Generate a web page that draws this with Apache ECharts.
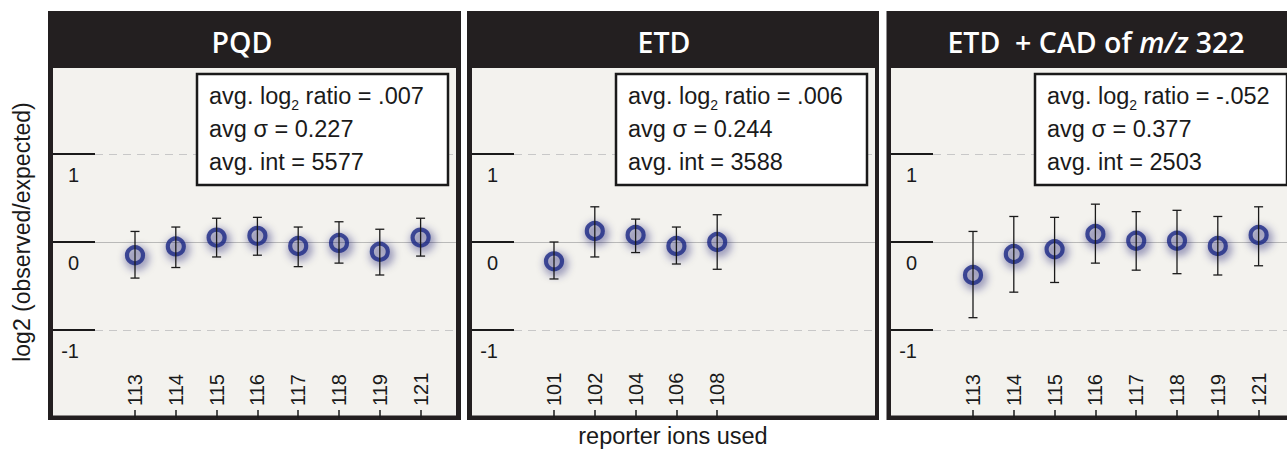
<!DOCTYPE html>
<html>
<head>
<meta charset="utf-8">
<script src="https://cdn.jsdelivr.net/npm/echarts@6/dist/echarts.min.js"></script>
<style>
html,body{margin:0;padding:0;background:#ffffff;}
#chart{width:1287px;height:451px;}
</style>
</head>
<body>
<div id="chart"></div>
<script>
// ---------- data ----------
const panelTitles = ['PQD', 'ETD', 'ETD  + CAD of {i|m/z} 322'];

const pqdIons  = ['113', '114', '115', '116', '117', '118', '119', '121'];
const pqdMean  = [-0.15, -0.05, 0.05, 0.07, -0.045, -0.01, -0.11, 0.05];
const pqdLow   = [-0.41, -0.29, -0.17, -0.15, -0.28, -0.24, -0.375, -0.16];
const pqdHigh  = [0.12, 0.17, 0.27, 0.28, 0.17, 0.23, 0.145, 0.27];

const etdIons  = ['101', '102', '104', '106', '108'];
const etdMean  = [-0.22, 0.125, 0.08, -0.045, 0.0];
const etdLow   = [-0.42, -0.17, -0.12, -0.25, -0.31];
const etdHigh  = [0.0, 0.40, 0.26, 0.17, 0.31];

const cadIons  = ['113', '114', '115', '116', '117', '118', '119', '121'];
const cadMean  = [-0.375, -0.136, -0.083, 0.09, 0.015, 0.015, -0.045, 0.08];
const cadLow   = [-0.86, -0.57, -0.46, -0.24, -0.32, -0.36, -0.375, -0.27];
const cadHigh  = [0.12, 0.29, 0.28, 0.43, 0.345, 0.36, 0.29, 0.40];

const statRatio = ['.007', '.006', '-.052'];
const statSigma = ['0.227', '0.244', '0.377'];
const statInt   = ['5577', '3588', '2503'];

const yTicks = [-1, 0, 1];
const yAxisTitle = 'log2 (observed/expected)';
const xAxisTitle = 'reporter ions used';

// ---------- layout (not data) ----------
const FONT = '"Liberation Sans", Arial, Helvetica, sans-serif';
const HFONT = '"Open Sans", "Noto Sans", sans-serif';
const BAND = 40.8;
const panels = [
  { outerX: 48,    outerW: 413, innerL: 53,  innerW: 403, titleX: 242,  boxW: 251, ions: pqdIons, mean: pqdMean, low: pqdLow, high: pqdHigh },
  { outerX: 467,   outerW: 412, innerL: 472, innerW: 403, titleX: 664,  boxW: 251, ions: etdIons, mean: etdMean, low: etdLow, high: etdHigh },
  { outerX: 886.5, outerW: 420, innerL: 891, innerW: 400, titleX: 1096, boxW: 252, ions: cadIons, mean: cadMean, low: cadLow, high: cadHigh }
];
const GTOP = 66, GH = 352;

const grid = [], xAxis = [], yAxis = [], series = [], graphics = [];

panels.forEach((p, k) => {
  const a = 2 * k, b = 2 * k + 1;
  grid.push({ left: p.innerL, top: GTOP, width: p.innerW, height: GH });
  grid.push({ left: p.innerL + 82 - BAND / 2, top: GTOP, width: p.ions.length * BAND, height: GH });

  xAxis.push({ type: 'value', gridIndex: a, min: 0, max: 1, show: false });
  xAxis.push({
    type: 'category', gridIndex: b, data: p.ions, z: 5,
    axisLine: { show: false, onZero: false },
    axisTick: { show: true, inside: true, alignWithLabel: true, interval: 0, length: 8, lineStyle: { color: '#1a1a1a', width: 1.5 } },
    axisLabel: { inside: true, rotate: 90, margin: 12, fontSize: 20, color: '#1a1a1a', fontFamily: FONT, padding: [0, 0, 0, 0] },
    splitLine: { show: false }
  });

  yAxis.push({
    type: 'value', gridIndex: a, min: -2, max: 2, interval: 1, z: 5,
    axisLine: { show: false, onZero: false },
    axisTick: { show: true, inside: true, length: 42, customValues: yTicks, lineStyle: { color: '#1a1a1a', width: 2 } },
    axisLabel: {
      inside: true, customValues: yTicks, margin: 26, align: 'right', verticalAlign: 'top',
      padding: [11, 0, 0, 0], fontSize: 20, color: '#1a1a1a', fontFamily: FONT,
      formatter: v => (yTicks.indexOf(v) >= 0 ? String(v) : '')
    },
    splitLine: { show: false }
  });
  yAxis.push({ type: 'value', gridIndex: b, min: -2, max: 2, show: false });

  series.push({
    type: 'line', xAxisIndex: a, yAxisIndex: a, data: [], silent: true, z: 3,
    markLine: {
      silent: true, symbol: ['none', 'none'], animation: false,
      label: { show: false },
      data: yTicks.map(v => ({
        yAxis: v,
        lineStyle: v === 0
          ? { color: '#a9a9a9', width: 0.8, type: 'solid' }
          : { color: '#c8c8c8', width: 1, type: [8, 6] }
      }))
    }
  });

  series.push({
    type: 'custom', xAxisIndex: b, yAxisIndex: b, z: 6, silent: true,
    data: p.ions.map((c, i) => [i, p.low[i], p.high[i]]),
    encode: { x: 0, y: [1, 2] },
    renderItem: (params, api) => {
      const lo = api.coord([api.value(0), api.value(1)]);
      const hi = api.coord([api.value(0), api.value(2)]);
      const hw = 4.5;
      const st = { stroke: '#1a1a1a', lineWidth: 1.3 };
      return {
        type: 'group',
        children: [
          { type: 'line', shape: { x1: lo[0], y1: lo[1], x2: hi[0], y2: hi[1] }, style: st },
          { type: 'line', shape: { x1: lo[0] - hw, y1: lo[1], x2: lo[0] + hw, y2: lo[1] }, style: st },
          { type: 'line', shape: { x1: hi[0] - hw, y1: hi[1], x2: hi[0] + hw, y2: hi[1] }, style: st }
        ]
      };
    }
  });

  series.push({
    type: 'scatter', xAxisIndex: b, yAxisIndex: b, z: 5, silent: true,
    data: p.mean,
    symbol: 'circle', symbolSize: 16,
    itemStyle: {
      color: 'rgba(0,0,0,0)', borderColor: '#1c2784', borderWidth: 4.2,
      shadowBlur: 10, shadowColor: 'rgba(12,16,95,1)', shadowOffsetX: 2, shadowOffsetY: 3
    }
  });

  graphics.push({ type: 'rect', z: 0, silent: true,
    shape: { x: p.outerX, y: 11, width: p.outerW, height: 409 }, style: { fill: '#231f20' } });
  graphics.push({ type: 'rect', z: 0, silent: true,
    shape: { x: p.innerL, y: 68, width: p.innerW, height: 347.5 }, style: { fill: '#f3f2ee' } });
  graphics.push({ type: 'text', z: 20, silent: true,
    style: {
      text: panelTitles[k], x: p.titleX, y: 42, align: 'center', verticalAlign: 'middle',
      fill: '#ffffff', fontSize: 28.5, fontWeight: 600, fontFamily: HFONT,
      rich: { i: { fontSize: 28.5, fontWeight: 600, fontStyle: 'italic', fontFamily: HFONT, fill: '#ffffff' } }
    }
  });
  const bx = p.innerL + 144;
  graphics.push({ type: 'rect', z: 20, silent: true,
    shape: { x: bx, y: 74, width: p.boxW, height: 111 },
    style: { fill: '#ffffff', stroke: '#1a1a1a', lineWidth: 2.5 } });
  graphics.push({ type: 'text', z: 21, silent: true,
    style: {
      text: 'avg. log{sub|2} ratio = ' + statRatio[k] + '\navg σ = ' + statSigma[k] + '\navg. int = ' + statInt[k],
      x: bx + 12, y: 79, align: 'left', verticalAlign: 'top',
      fill: '#1a1a1a', fontSize: 23.5, fontFamily: FONT, lineHeight: 33,
      rich: { sub: { fontSize: 14, fontFamily: FONT, fill: '#1a1a1a', verticalAlign: 'bottom', lineHeight: 33 } }
    }
  });
});

graphics.push({ type: 'text', z: 20, silent: true, x: 22, y: 232, rotation: Math.PI / 2,
  style: { text: yAxisTitle, x: 0, y: 0, align: 'center', verticalAlign: 'middle', fill: '#1a1a1a', fontSize: 23, fontFamily: FONT } });
graphics.push({ type: 'text', z: 20, silent: true,
  style: { text: xAxisTitle, x: 673, y: 436, align: 'center', verticalAlign: 'middle', fill: '#1a1a1a', fontSize: 23.5, fontFamily: FONT } });

const chart = echarts.init(document.getElementById('chart'), null, { renderer: 'svg', width: 1287, height: 451 });
chart.setOption({
  animation: false,
  backgroundColor: '#ffffff',
  grid, xAxis, yAxis, series,
  graphic: { elements: graphics }
});
</script>
</body>
</html>
